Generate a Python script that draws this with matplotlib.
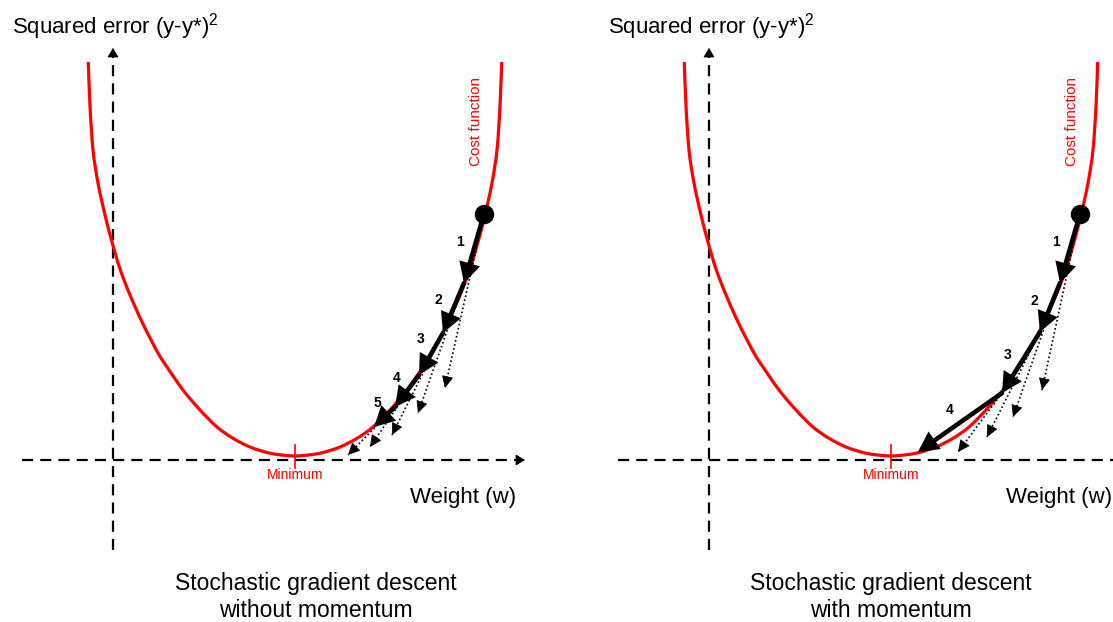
import numpy as np
import matplotlib
matplotlib.use("Agg")
import matplotlib.pyplot as plt
from matplotlib.path import Path
from matplotlib.patches import PathPatch

plt.rcParams['font.family'] = ['Liberation Sans', 'DejaVu Sans']
plt.rcParams['mathtext.fontset'] = 'custom'
plt.rcParams['mathtext.rm'] = 'Liberation Sans'

# ---------------- data (pixel units) ----------------
# half cost curve: horizontal offset from minimum vs height above minimum
curve_dx = [0, 15, 28, 45, 62, 78, 95, 112, 128, 137, 152, 165, 175, 183, 190, 197, 202, 205, 206.7]
curve_h = [0, 1.2, 3.5, 9, 17.7, 29, 46, 66, 89, 103, 132, 161, 187, 214, 241, 273, 306, 350, 394]

# gradient-descent step points (x, y) for each panel, local panel coordinates
left_steps_x = [484, 464, 443, 419, 395, 374]
left_steps_y = [214, 283, 333, 375, 407, 427]
left_dot_end_x = [445, 418, 392, 370, 348]
left_dot_end_y = [388, 413, 435, 447, 455]
left_labels = ['1', '2', '3', '4', '5']
left_label_x = [460, 438, 421, 397, 377]
left_label_y = [242, 300, 339, 378, 403]

right_steps_x = [484, 464, 444, 406, 322]
right_steps_y = [214, 283, 332, 393, 452]
right_dot_end_x = [446, 417, 391, 362]
right_dot_end_y = [390, 417, 437, 452]
right_labels = ['1', '2', '3', '4']
right_label_x = [460, 438, 412, 354]
right_label_y = [242, 301, 355, 410]

titles = ['Stochastic gradient descent\nwithout momentum',
          'Stochastic gradient descent\nwith momentum']
ylabel_text = 'Squared error (y-y*)$^{2}$'
xlabel_text = 'Weight (w)'

# ---------------- layout ----------------
W, H = 1113, 622
fig = plt.figure(figsize=(W / 100, H / 100), dpi=100)
ax = fig.add_axes([0, 0, 1, 1])
ax.set_xlim(0, W)
ax.set_ylim(H, 0)
ax.axis('off')

RED = '#ff0000'
MIN_X, MIN_Y = 295, 456
AX_Y, YAX_X = 460, 113


def smooth_path(xs, ys):
    """Smooth curve through the given points (Catmull-Rom as cubic Beziers)."""
    P = np.column_stack([xs, ys])
    n = len(P)
    verts = [P[0]]
    codes = [Path.MOVETO]
    for i in range(n - 1):
        p0 = P[i - 1] if i > 0 else P[i]
        p1, p2 = P[i], P[i + 1]
        p3 = P[i + 2] if i + 2 < n else P[i + 1]
        c1 = p1 + (p2 - p0) / 6.0
        c2 = p2 - (p3 - p1) / 6.0
        verts += [c1, c2, p2]
        codes += [Path.CURVE4] * 3
    return Path(verts, codes)


def axis_arrow(x0, y0, x1, y1):
    ax.annotate('', xy=(x1, y1), xytext=(x0, y0),
                arrowprops=dict(arrowstyle='-|>,head_length=0.6,head_width=0.36',
                                mutation_scale=10, lw=0.5, color='black',
                                shrinkA=0, shrinkB=0))


def panel(off, steps_x, steps_y, dot_x, dot_y, labels, lab_x, lab_y, title, title_cx):
    # axes (dashed)
    ax.plot([22 + off, 517 + off], [AX_Y, AX_Y], color='black', lw=1.6,
            dashes=(5, 3.2), zorder=1)
    axis_arrow(516 + off, AX_Y, 525 + off, AX_Y)
    ax.plot([YAX_X + off, YAX_X + off], [550, 56], color='black', lw=1.6,
            dashes=(5, 3.2), zorder=1)
    axis_arrow(YAX_X + off, 57, YAX_X + off, 48)

    # cost curve
    dx = np.array(curve_dx, dtype=float)
    h = np.array(curve_h, dtype=float)
    xs = np.concatenate([MIN_X - dx[::-1], MIN_X + dx[1:]]) + off
    ys = MIN_Y - np.concatenate([h[::-1], h[1:]])
    ax.add_patch(PathPatch(smooth_path(xs, ys), fill=False, edgecolor=RED,
                           lw=2.3, capstyle='butt', zorder=2))

    # minimum tick + label
    ax.plot([MIN_X + off, MIN_X + off], [445, 468], color=RED, lw=1.2, zorder=2)
    ax.text(MIN_X + off, 475, 'Minimum', color=RED, fontsize=10,
            ha='center', va='center')
    ax.text(476 + off, 122, 'Cost function', color=RED, fontsize=11,
            rotation=90, ha='center', va='center')

    # labels
    ax.text(12 + off, 34, ylabel_text, fontsize=16, ha='left', va='baseline')
    ax.text(410 + off, 497, xlabel_text, fontsize=16, ha='left', va='center')
    ax.text(title_cx, 597, title, fontsize=16.5, ha='center', va='center',
            linespacing=1.2)

    # dotted gradient arrows
    for i in range(len(dot_x)):
        x0, y0 = steps_x[i] + off, steps_y[i]
        x1, y1 = dot_x[i] + off, dot_y[i]
        ax.plot([x0, x1], [y0, y1], color='black', lw=1.2,
                dashes=(1, 1.5), zorder=3)
        v = np.array([x1 - x0, y1 - y0])
        v = v / np.hypot(*v)
        ax.annotate('', xy=(x1, y1), xytext=(x1 - 2 * v[0], y1 - 2 * v[1]),
                    arrowprops=dict(arrowstyle='-|>,head_length=0.75,head_width=0.36',
                                    mutation_scale=10, lw=0.6, color='black',
                                    shrinkA=0, shrinkB=0), zorder=3)

    # solid step arrows
    for i in range(len(steps_x) - 1):
        ax.annotate('', xy=(steps_x[i + 1] + off, steps_y[i + 1]),
                    xytext=(steps_x[i] + off, steps_y[i]),
                    arrowprops=dict(arrowstyle='-|>,head_length=0.95,head_width=0.5',
                                    mutation_scale=10, lw=3.3, color='black',
                                    shrinkA=0, shrinkB=0, joinstyle='miter'),
                    zorder=4)
    for s, lx, ly in zip(labels, lab_x, lab_y):
        ax.text(lx + off, ly, s, fontsize=10, fontweight='bold',
                ha='center', va='center', zorder=5)

    # starting ball
    ax.plot([steps_x[0] + off], [steps_y[0]], 'o', color='black', ms=13, zorder=6)


panel(0, left_steps_x, left_steps_y, left_dot_end_x, left_dot_end_y,
      left_labels, left_label_x, left_label_y, titles[0], 316)
panel(596, right_steps_x, right_steps_y, right_dot_end_x, right_dot_end_y,
      right_labels, right_label_x, right_label_y, titles[1], 891)

fig.savefig('out.png', dpi=100)
